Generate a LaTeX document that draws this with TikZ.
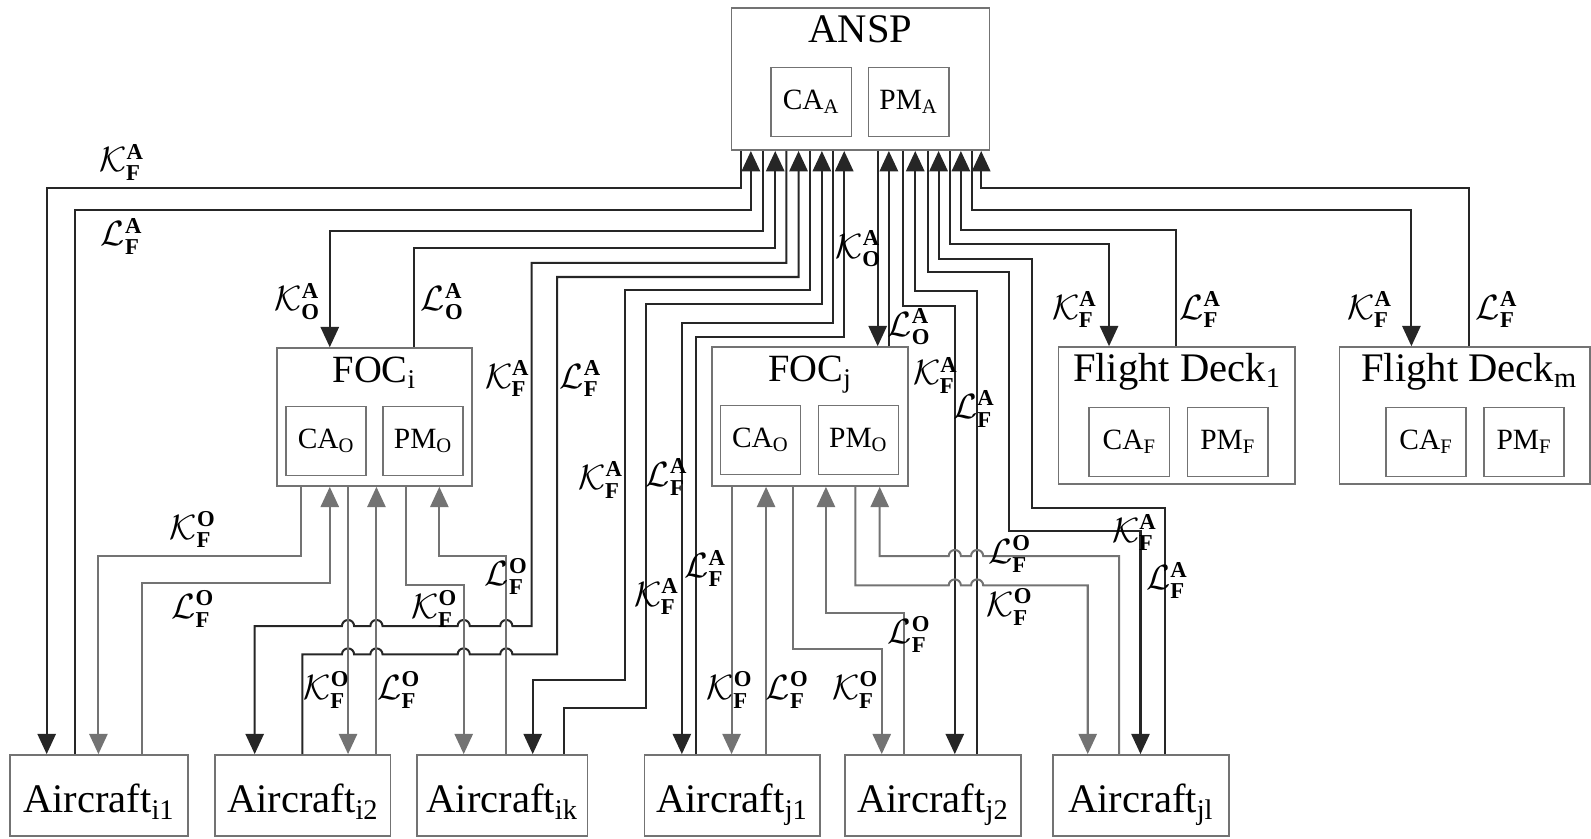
\documentclass[tikz,border=0pt]{standalone}
\usepackage{amsmath,amssymb}
\usepackage{fontspec}
\setmainfont{Liberation Serif}
\usetikzlibrary{arrows.meta}

\newcommand{\Kx}[2]{$\mathcal{K}^{\mathbf{#2}}_{\mathbf{#1}}$}
\newcommand{\Lx}[2]{$\mathcal{L}^{\mathbf{#2}}_{\mathbf{#1}}$}

\begin{document}
\begin{tikzpicture}[x=0.5pt,y=-0.5pt,
    >={Triangle[length=10pt,width=9pt]},
    box/.style={draw=black!55,line width=0.8pt,inner sep=0pt},
    ttl/.style={font=\fontsize{20}{22}\selectfont,inner sep=0pt,anchor=base},
    sub/.style={box,font=\fontsize{14.5}{16}\selectfont,minimum width=39.5pt,minimum height=34pt},
    craft/.style={box,font=\fontsize{20}{22}\selectfont,minimum height=40pt,text height=17pt,text depth=0pt},
    lbl/.style={font=\fontsize{16}{18}\selectfont,inner sep=1pt},
    aln/.style={draw=black!85,line width=1pt},
    oln/.style={draw=black!55,line width=1pt}]
  \useasboundingbox (0,0) rectangle (1568,826);

  % boxes
  \node[box,minimum width=127pt,minimum height=70pt] (ansp) at (848,78) {};
  \node[ttl] (ansptitle) at (848,42) {ANSP};
  \node[sub] (caa) at (799.5,100.5) {CA\textsubscript{A}};
  \node[sub] (pma) at (895.5,100.5) {PM\textsubscript{A}};

  \node[box,minimum width=96pt,minimum height=68pt] (foci) at (369,411) {};
  \node[ttl,font=\fontsize{19}{21}\selectfont] (focititle) at (369,377) {FOC\textsubscript{i}};
  \node[sub] (caoi) at (321.5,434.5) {CA\textsubscript{O}};
  \node[sub] (pmoi) at (417,434.5) {PM\textsubscript{O}};

  \node[box,minimum width=96.5pt,minimum height=68.5pt] (focj) at (798.5,410.5) {};
  \node[ttl,font=\fontsize{19}{21}\selectfont] (focjtitle) at (798.5,376) {FOC\textsubscript{j}};
  \node[sub] (caoj) at (749.5,433.5) {CA\textsubscript{O}};
  \node[sub] (pmoj) at (846,433.5) {PM\textsubscript{O}};

  \node[box,minimum width=116.5pt,minimum height=67.5pt] (fd1) at (1159.5,409.5) {};
  \node[ttl] (fd1title) at (1160,376) {Flight Deck\textsubscript{1}};
  \node[sub] (caf1) at (1113,435.5) {CA\textsubscript{F}};
  \node[sub] (pmf1) at (1210,435.5) {PM\textsubscript{F}};

  \node[box,minimum width=123.5pt,minimum height=67.5pt] (fdm) at (1443.5,409.5) {};
  \node[ttl] (fdmtitle) at (1448,376) {Flight Deck\textsubscript{m}};
  \node[sub] (cafm) at (1405.5,435.5) {CA\textsubscript{F}};
  \node[sub] (pmfm) at (1502,435.5) {PM\textsubscript{F}};

  \node[craft,minimum width=87.5pt] (ac1) at (97.5,784) {Aircraft\textsubscript{i1}};
  \node[craft,minimum width=86.5pt] (ac2) at (298.5,784) {Aircraft\textsubscript{i2}};
  \node[craft,minimum width=84pt] (ack) at (495,784) {Aircraft\textsubscript{ik}};
  \node[craft,minimum width=86.5pt] (acj1) at (721.5,784) {Aircraft\textsubscript{j1}};
  \node[craft,minimum width=86.5pt] (acj2) at (919.5,784) {Aircraft\textsubscript{j2}};
  \node[craft,minimum width=86.5pt] (acjl) at (1124.5,784) {Aircraft\textsubscript{jl}};

  % ANSP links, left side
  \draw[aln,->] (ansp.south -| 730,0) |- (46,185) -- (ac1.north -| 46,0);
  \draw[aln,->] (ac1.north -| 74,0) |- (740,207) -- (ansp.south -| 740,0);
  \draw[aln,->] (ansp.south -| 752,0) |- (325,228) -- (foci.north -| 325,0);
  \draw[aln,->] (foci.north -| 408,0) |- (764,244) -- (ansp.south -| 764,0);
  \draw[aln,->] (ansp.south -| 775,0) |- (524,259) -- (524,617)
    \foreach \h in {499,457,371,343} {-- (\h+6,617) arc[start angle=0,end angle=-180,radius=6]}
    -- (251,617) -- (ac2.north -| 251,0);
  \draw[aln,->] (ac2.north -| 298,0) -- (298,645)
    \foreach \h in {343,371,457,499} {-- (\h-6,645) arc[start angle=180,end angle=360,radius=6]}
    -- (549,645) |- (787,273) -- (ansp.south -| 787,0);
  \draw[aln,->] (ansp.south -| 798,0) |- (616,286) |- (525,670) -- (ack.north -| 525,0);
  \draw[aln,->] (ack.north -| 556,0) |- (637,698) |- (810,300) -- (ansp.south -| 810,0);
  \draw[aln,->] (ansp.south -| 821,0) |- (672,318) -- (acj1.north -| 672,0);
  \draw[aln,->] (acj1.north -| 686,0) |- (832,332) -- (ansp.south -| 832,0);
  \draw[aln,->] (ansp.south -| 865,0) -- (focj.north -| 865,0);
  \draw[aln,->] (focj.north -| 876,0) -- (ansp.south -| 876,0);

  % ANSP links, right side
  \draw[aln,->] (ansp.south -| 890,0) |- (941,302) -- (acj2.north -| 941,0);
  \draw[aln,->] (acj2.north -| 963,0) |- (902,287) -- (ansp.south -| 902,0);
  \draw[aln,->] (ansp.south -| 915,0) |- (994,268) |- (1124,523) -- (acjl.north -| 1124,0);
  \draw[aln,->] (acjl.north -| 1148,0) |- (1017,501) |- (925,255) -- (ansp.south -| 925,0);
  \draw[aln,->] (ansp.south -| 936,0) |- (1093,240) -- (fd1.north -| 1093,0);
  \draw[aln,->] (fd1.north -| 1159,0) |- (947,227) -- (ansp.south -| 947,0);
  \draw[aln,->] (ansp.south -| 958,0) |- (1391,207) -- (fdm.north -| 1391,0);
  \draw[aln,->] (fdm.north -| 1448,0) |- (967,185) -- (ansp.south -| 967,0);

  % FOC_i links
  \draw[oln,->] (foci.south -| 297,0) |- (97,548) -- (ac1.north -| 97,0);
  \draw[oln,->] (ac1.north -| 140,0) |- (325,575) -- (foci.south -| 325,0);
  \draw[oln,->] (foci.south -| 343,0) -- (ac2.north -| 343,0);
  \draw[oln,->] (ac2.north -| 371,0) -- (foci.south -| 371,0);
  \draw[oln,->] (foci.south -| 400,0) |- (457,577) -- (ack.north -| 457,0);
  \draw[oln,->] (ack.north -| 499,0) |- (433,548) -- (foci.south -| 433,0);

  % FOC_j links
  \draw[oln,->] (focj.south -| 721,0) -- (acj1.north -| 721,0);
  \draw[oln,->] (acj1.north -| 755,0) -- (focj.south -| 755,0);
  \draw[oln,->] (focj.south -| 782,0) |- (869,640) -- (acj2.north -| 869,0);
  \draw[oln,->] (acj2.north -| 891,0) |- (814,604) -- (focj.south -| 814,0);
  \draw[oln,->] (focj.south -| 843,0) -- (843,577)
    \foreach \h in {941,963} {-- (\h-6,577) arc[start angle=180,end angle=360,radius=6]}
    -- (1072,577) -- (acjl.north -| 1072,0);
  \draw[oln,->] (acjl.north -| 1103,0) -- (1103,548)
    \foreach \h in {963,941} {-- (\h+6,548) arc[start angle=0,end angle=-180,radius=6]}
    -- (867,548) -- (focj.south -| 867,0);

  % labels
  \node[lbl] (kfa1) at (120,160) {\Kx{F}{A}};
  \node[lbl] (lfa1) at (120,233) {\Lx{F}{A}};
  \node[lbl] (koa1) at (293,297) {\Kx{O}{A}};
  \node[lbl] (loa1) at (436,297) {\Lx{O}{A}};
  \node[lbl] (kfa2) at (500,373) {\Kx{F}{A}};
  \node[lbl] (lfa2) at (572,373) {\Lx{F}{A}};
  \node[lbl] (kfa3) at (592,473) {\Kx{F}{A}};
  \node[lbl] (lfa3) at (657,470) {\Lx{F}{A}};
  \node[lbl] (kfa4) at (647,588) {\Kx{F}{A}};
  \node[lbl] (lfa4) at (695,560) {\Lx{F}{A}};
  \node[lbl] (koa2) at (846,245) {\Kx{O}{A}};
  \node[lbl] (loa2) at (896,322) {\Lx{O}{A}};
  \node[lbl] (kfa5) at (922,370) {\Kx{F}{A}};
  \node[lbl] (lfa5) at (960,403) {\Lx{F}{A}};
  \node[lbl] (kfa6) at (1118,525) {\Kx{F}{A}};
  \node[lbl] (lfa6) at (1150,572) {\Lx{F}{A}};
  \node[lbl] (kfa7) at (1059,305) {\Kx{F}{A}};
  \node[lbl] (lfa7) at (1183,305) {\Lx{F}{A}};
  \node[lbl] (kfa8) at (1350,305) {\Kx{F}{A}};
  \node[lbl] (lfa8) at (1475,305) {\Lx{F}{A}};
  \node[lbl] (kfo1) at (190,522) {\Kx{F}{O}};
  \node[lbl] (lfo1) at (190,600) {\Lx{F}{O}};
  \node[lbl] (kfo2) at (322,680) {\Kx{F}{O}};
  \node[lbl] (lfo2) at (393,680) {\Lx{F}{O}};
  \node[lbl] (kfo3) at (428,600) {\Kx{F}{O}};
  \node[lbl] (lfo3) at (499,568) {\Lx{F}{O}};
  \node[lbl] (kfo4) at (719,680) {\Kx{F}{O}};
  \node[lbl] (lfo4) at (776,680) {\Lx{F}{O}};
  \node[lbl] (kfo5) at (843,680) {\Kx{F}{O}};
  \node[lbl] (lfo5) at (896,625) {\Lx{F}{O}};
  \node[lbl] (lfo6) at (995,546) {\Lx{F}{O}};
  \node[lbl] (kfo6) at (995,598) {\Kx{F}{O}};
\end{tikzpicture}
\end{document}
